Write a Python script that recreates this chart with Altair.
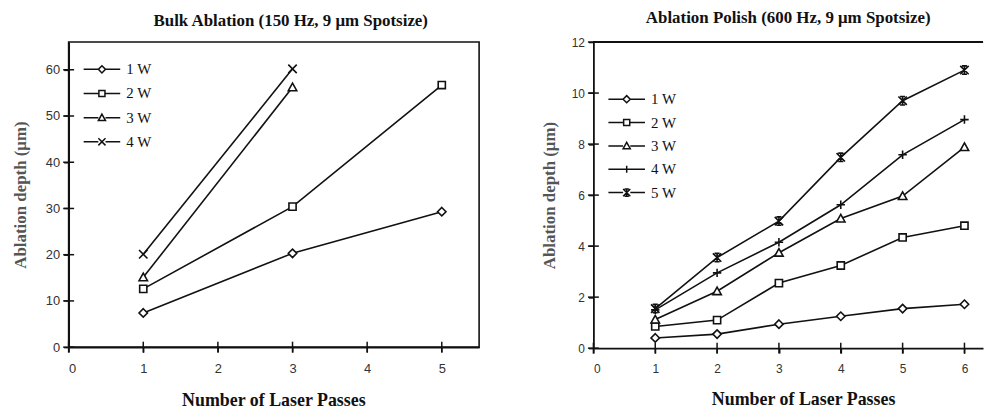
import altair as alt
import pandas as pd
import re

# ---- data ----
bulk_powers = ["1 W", "2 W", "3 W", "4 W"]
bulk_passes = {"1 W": [1, 3, 5], "2 W": [1, 3, 5], "3 W": [1, 3], "4 W": [1, 3]}
bulk_depth = {
    "1 W": [7.4, 20.3, 29.3],
    "2 W": [12.6, 30.4, 56.7],
    "3 W": [15.1, 56.2],
    "4 W": [20.1, 60.2],
}

polish_powers = ["1 W", "2 W", "3 W", "4 W", "5 W"]
polish_passes = [1, 2, 3, 4, 5, 6]
polish_depth = {
    "1 W": [0.4, 0.55, 0.94, 1.25, 1.55, 1.72],
    "2 W": [0.85, 1.1, 2.55, 3.24, 4.34, 4.8],
    "3 W": [1.12, 2.23, 3.74, 5.08, 5.96, 7.88],
    "4 W": [1.5, 2.95, 4.15, 5.62, 7.58, 8.96],
    "5 W": [1.55, 3.55, 4.98, 7.48, 9.7, 10.9],
}

bulk_x_ticks = [0, 1, 2, 3, 4, 5]
bulk_y_ticks = [0, 10, 20, 30, 40, 50, 60]
polish_x_ticks = [0, 1, 2, 3, 4, 5, 6]
polish_y_ticks = [0, 2, 4, 6, 8, 10, 12]

bulk_rows = [
    {"Power": p, "Passes": x, "Depth": y}
    for p in bulk_powers
    for x, y in zip(bulk_passes[p], bulk_depth[p])
]
polish_rows = [
    {"Power": p, "Passes": x, "Depth": y}
    for p in polish_powers
    for x, y in zip(polish_passes, polish_depth[p])
]
bulk_df = pd.DataFrame(bulk_rows)
polish_df = pd.DataFrame(polish_rows)

# ---- marker shapes (unit square paths) ----
DIAMOND = "M0,-1L1,0L0,1L-1,0Z"
SQUARE = "M-0.85,-0.85H0.85V0.85H-0.85Z"
TRIANGLE = "M0,-1L1,0.8H-1Z"
XCROSS = "M-1,-1L1,1M-1,1L1,-1"
PLUS = "M-1,0H1M0,-1V1"
STAR = "M-1,-1L1,1M-1,1L1,-1M0,-1.1V1.1M-0.6,-1H0.6M-0.6,1H0.6"
plot_shapes = [DIAMOND, SQUARE, TRIANGLE, XCROSS]
polish_plot_shapes = [DIAMOND, SQUARE, TRIANGLE, PLUS, STAR]


def legend_path(shape, r=0.9, half=4.6):
    # horizontal line segment with the (scaled) marker in the middle
    toks = re.split(r"([MLHVZ])", shape)
    out = []
    for tok in toks:
        tok = tok.strip()
        if not tok:
            continue
        if tok in "MLHVZ":
            out.append(tok)
        else:
            vals = [float(v) * r for v in tok.split(",")]
            out.append(",".join(f"{v:.3f}" for v in vals))
    return f"M{-half},0H{-r}M{r},0H{half}" + "".join(out)


SERIF = "Liberation Serif"
SANS = "Liberation Sans"
INK = "#111"


def make_panel(df, powers, shapes, xdom, ydom, xticks, yticks, width, height,
               title, label_size, ytitle_pad, lx, ly, row_pad, frame,
               title_off, title_dx, xtitle_x):
    xs = alt.Scale(domain=xdom, nice=False, zero=False)
    ys = alt.Scale(domain=ydom, nice=False, zero=False)
    base = alt.Chart(df)
    x = alt.X(
        "Passes:Q", scale=xs,
        axis=alt.Axis(
            values=xticks, title="Number of Laser Passes", grid=False,
            labelFont=SANS, labelFontSize=label_size, labelColor="#333",
            titleFont=SERIF, titleFontSize=18, titleFontWeight="bold",
            titleColor=INK, titlePadding=17, tickSize=5, tickColor=INK,
            tickWidth=1.5, domainColor=INK, domainWidth=1.8, labelPadding=10,
            format="d", titleX=xtitle_x,
        ),
    )
    y = alt.Y(
        "Depth:Q", scale=ys,
        axis=alt.Axis(
            values=yticks, title="Ablation depth (μm)", grid=False,
            labelFont=SANS, labelFontSize=label_size, labelColor="#333",
            titleFont=SERIF, titleFontSize=17, titleFontWeight="bold",
            titleColor="#555", titlePadding=ytitle_pad, tickSize=5,
            tickColor=INK, tickWidth=1.5, domainColor=INK,
            domainWidth=1.8, labelPadding=4, format="d",
        ),
    )
    lines = base.mark_line(color=INK, strokeWidth=1.6).encode(
        x=x, y=y, detail="Power:N", order="Passes:Q"
    )
    pts = base.mark_point(filled=False, color=INK, strokeWidth=1.6,
                          size=72, fill="white", fillOpacity=1, opacity=1).encode(
        x=x, y=y,
        shape=alt.Shape("Power:N", scale=alt.Scale(domain=powers, range=shapes),
                        legend=None),
    )
    leg_pts = base.mark_point(filled=False, color=INK, strokeWidth=1.5,
                              size=64, opacity=0).encode(
        x=x, y=y,
        shape=alt.Shape(
            "Power:N",
            scale=alt.Scale(domain=powers, range=[legend_path(s) for s in shapes]),
            legend=alt.Legend(
                title=None, orient="none", legendX=lx, legendY=ly,
                symbolOpacity=1, symbolSize=64, symbolStrokeColor=INK,
                symbolFillColor=INK, symbolStrokeWidth=1.5,
                labelFont=SERIF, labelFontSize=15, labelColor=INK,
                labelOffset=17, rowPadding=row_pad, padding=0,
            ),
        ),
    )
    # inner halves of the tick marks (the reference ticks cross the axis lines)
    ytick_layer = alt.Chart(pd.DataFrame({"Depth": yticks})).mark_tick(
        orient="horizontal", size=11, thickness=1.5, color=INK, opacity=1
    ).encode(y=alt.Y("Depth:Q", scale=ys), x=alt.value(0))
    xtick_layer = alt.Chart(pd.DataFrame({"Passes": xticks})).mark_tick(
        orient="vertical", size=11, thickness=1.5, color=INK, opacity=1
    ).encode(x=alt.X("Passes:Q", scale=xs), y=alt.value(height))
    layers = [lines, ytick_layer, xtick_layer, leg_pts, pts]
    if not frame:
        # top border of the plot frame (the right edge is cut off in the reference)
        top = alt.Chart(df).mark_rule(color=INK, strokeWidth=1.8).encode(
            x=alt.value(0), x2=alt.value(width), y=alt.value(0)
        )
        layers.append(top)
    ch = alt.layer(*layers).resolve_scale(shape="independent")
    ch = ch.properties(
        width=width, height=height,
        title=alt.TitleParams(title, font=SERIF, fontSize=17, fontWeight="bold",
                              color=INK, offset=title_off, anchor="middle",
                              dx=title_dx),
    )
    if not frame:
        ch = ch.properties(view=alt.ViewConfig(stroke=None))
    return ch


left = make_panel(bulk_df, bulk_powers, plot_shapes, [0, 5.5], [0, 66],
                  bulk_x_ticks, bulk_y_ticks, 413, 307,
                  "Bulk Ablation (150 Hz, 9 μm Spotsize)", 13, 16,
                  26, 20, 8.3, True, 12, 17, 206)
right = make_panel(polish_df, polish_powers, polish_plot_shapes, [0, 6.3], [0, 12],
                   polish_x_ticks, polish_y_ticks, 392, 308,
                   "Ablation Polish (600 Hz, 9 μm Spotsize)", 12, 13,
                   26, 50, 7.5, False, 9, 0, 211)

chart = (
    alt.hconcat(left, right, spacing=60)
    .properties(padding={"left": 2, "top": 0, "right": 0, "bottom": 0})
    .configure_view(stroke=INK, strokeWidth=1.6)
)

chart.save("out.html", embed_options={"renderer": "svg", "actions": False})
